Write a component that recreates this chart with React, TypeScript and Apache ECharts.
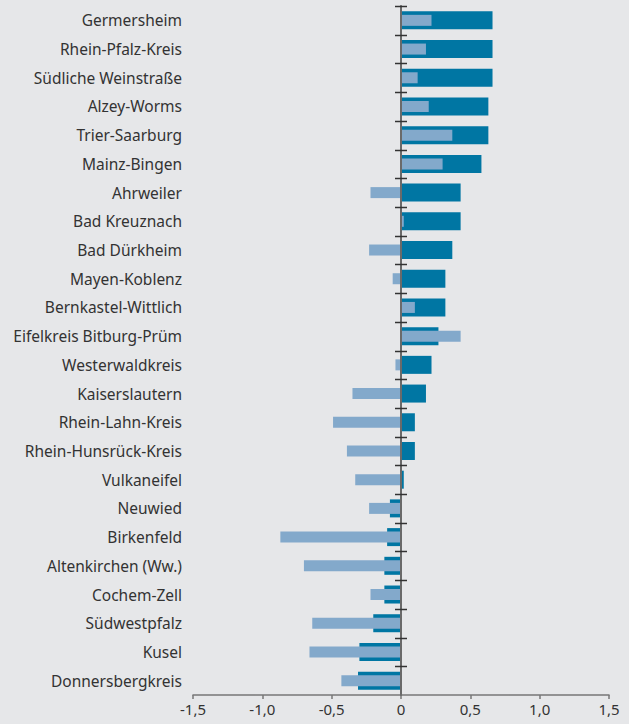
import React, { useEffect, useRef } from "react";
import * as echarts from "echarts";

const categories = [
  "Germersheim",
  "Rhein-Pfalz-Kreis",
  "Südliche Weinstraße",
  "Alzey-Worms",
  "Trier-Saarburg",
  "Mainz-Bingen",
  "Ahrweiler",
  "Bad Kreuznach",
  "Bad Dürkheim",
  "Mayen-Koblenz",
  "Bernkastel-Wittlich",
  "Eifelkreis Bitburg-Prüm",
  "Westerwaldkreis",
  "Kaiserslautern",
  "Rhein-Lahn-Kreis",
  "Rhein-Hunsrück-Kreis",
  "Vulkaneifel",
  "Neuwied",
  "Birkenfeld",
  "Altenkirchen (Ww.)",
  "Cochem-Zell",
  "Südwestpfalz",
  "Kusel",
  "Donnersbergkreis",
];

const darkValues = [
  0.66, 0.66, 0.66, 0.63, 0.63, 0.58, 0.43, 0.43, 0.37, 0.32, 0.32, 0.27,
  0.22, 0.18, 0.1, 0.1, 0.02, -0.08, -0.1, -0.12, -0.12, -0.2, -0.3, -0.31,
];

const lightValues = [
  0.22, 0.18, 0.12, 0.2, 0.37, 0.3, -0.22, 0.02, -0.23, -0.06, 0.1, 0.43,
  -0.04, -0.35, -0.49, -0.39, -0.33, -0.23, -0.87, -0.7, -0.22, -0.64, -0.66,
  -0.43,
];

const xMin = -1.5;
const xMax = 1.5;
const xInterval = 0.5;

const fmt = (v: number) => (v === 0 ? "0" : v.toFixed(1).replace(".", ","));

export default function App() {
  const ref = useRef<HTMLDivElement>(null);
  useEffect(() => {
    if (!ref.current) return;
    const chart = echarts.init(ref.current, undefined, { renderer: "svg" });
    const font = "'Noto Sans', sans-serif";
    chart.setOption({
      animation: false,
      backgroundColor: "#e6e7e9",
      grid: { left: 193, right: 20, top: 6, bottom: 29, containLabel: false },
      xAxis: {
        type: "value",
        min: xMin,
        max: xMax,
        interval: xInterval,
        splitLine: { show: false },
        axisLine: { show: true, onZero: false, lineStyle: { color: "#777", width: 1.5 } },
        axisTick: { show: true, length: 4, lineStyle: { color: "#777", width: 1.5 } },
        axisLabel: {
          formatter: fmt,
          color: "#333",
          fontSize: 15,
          fontFamily: font,
          margin: 6,
        },
      },
      yAxis: [
        {
          type: "category",
          data: categories,
          inverse: true,
          position: "left",
          axisLine: { show: false, onZero: false },
          axisTick: { show: false },
          axisLabel: {
            color: "#333",
            fontSize: 15.5,
            fontFamily: font,
            margin: 11,
          },
        },
        {
          type: "category",
          data: categories,
          inverse: true,
          position: "left",
          z: 5,
          axisLine: { show: true, onZero: true, lineStyle: { color: "#6a6a6a", width: 2 } },
          axisTick: { show: false },
          axisLabel: { show: false },
        },
      ],
      series: [
        {
          type: "bar",
          yAxisIndex: 0,
          data: darkValues,
          barWidth: 18,
          itemStyle: { color: "#0076a3" },
        },
        {
          type: "bar",
          yAxisIndex: 1,
          data: lightValues,
          barWidth: 11,
          itemStyle: { color: "#83a9cb" },
        },
        {
          type: "custom",
          yAxisIndex: 0,
          z: 6,
          silent: true,
          data: categories.map((_, i) => [0, i]),
          encode: { x: 0, y: 1 },
          renderItem: (params: any, api: any) => {
            const p = api.coord([api.value(0), api.value(1)]);
            const h = api.size([0, 1])[1];
            const y = Math.round(p[1] - h / 2) + 0.5;
            return {
              type: "line",
              shape: { x1: p[0] - 6, y1: y, x2: p[0] + 6, y2: y },
              style: { stroke: "#333", lineWidth: 1.5 },
            };
          },
        },
      ],
    });
    return () => chart.dispose();
  }, []);
  return (
    <div
      ref={ref}
      style={{ position: "absolute", left: 0, top: 0, width: 629, height: 724 }}
    />
  );
}
